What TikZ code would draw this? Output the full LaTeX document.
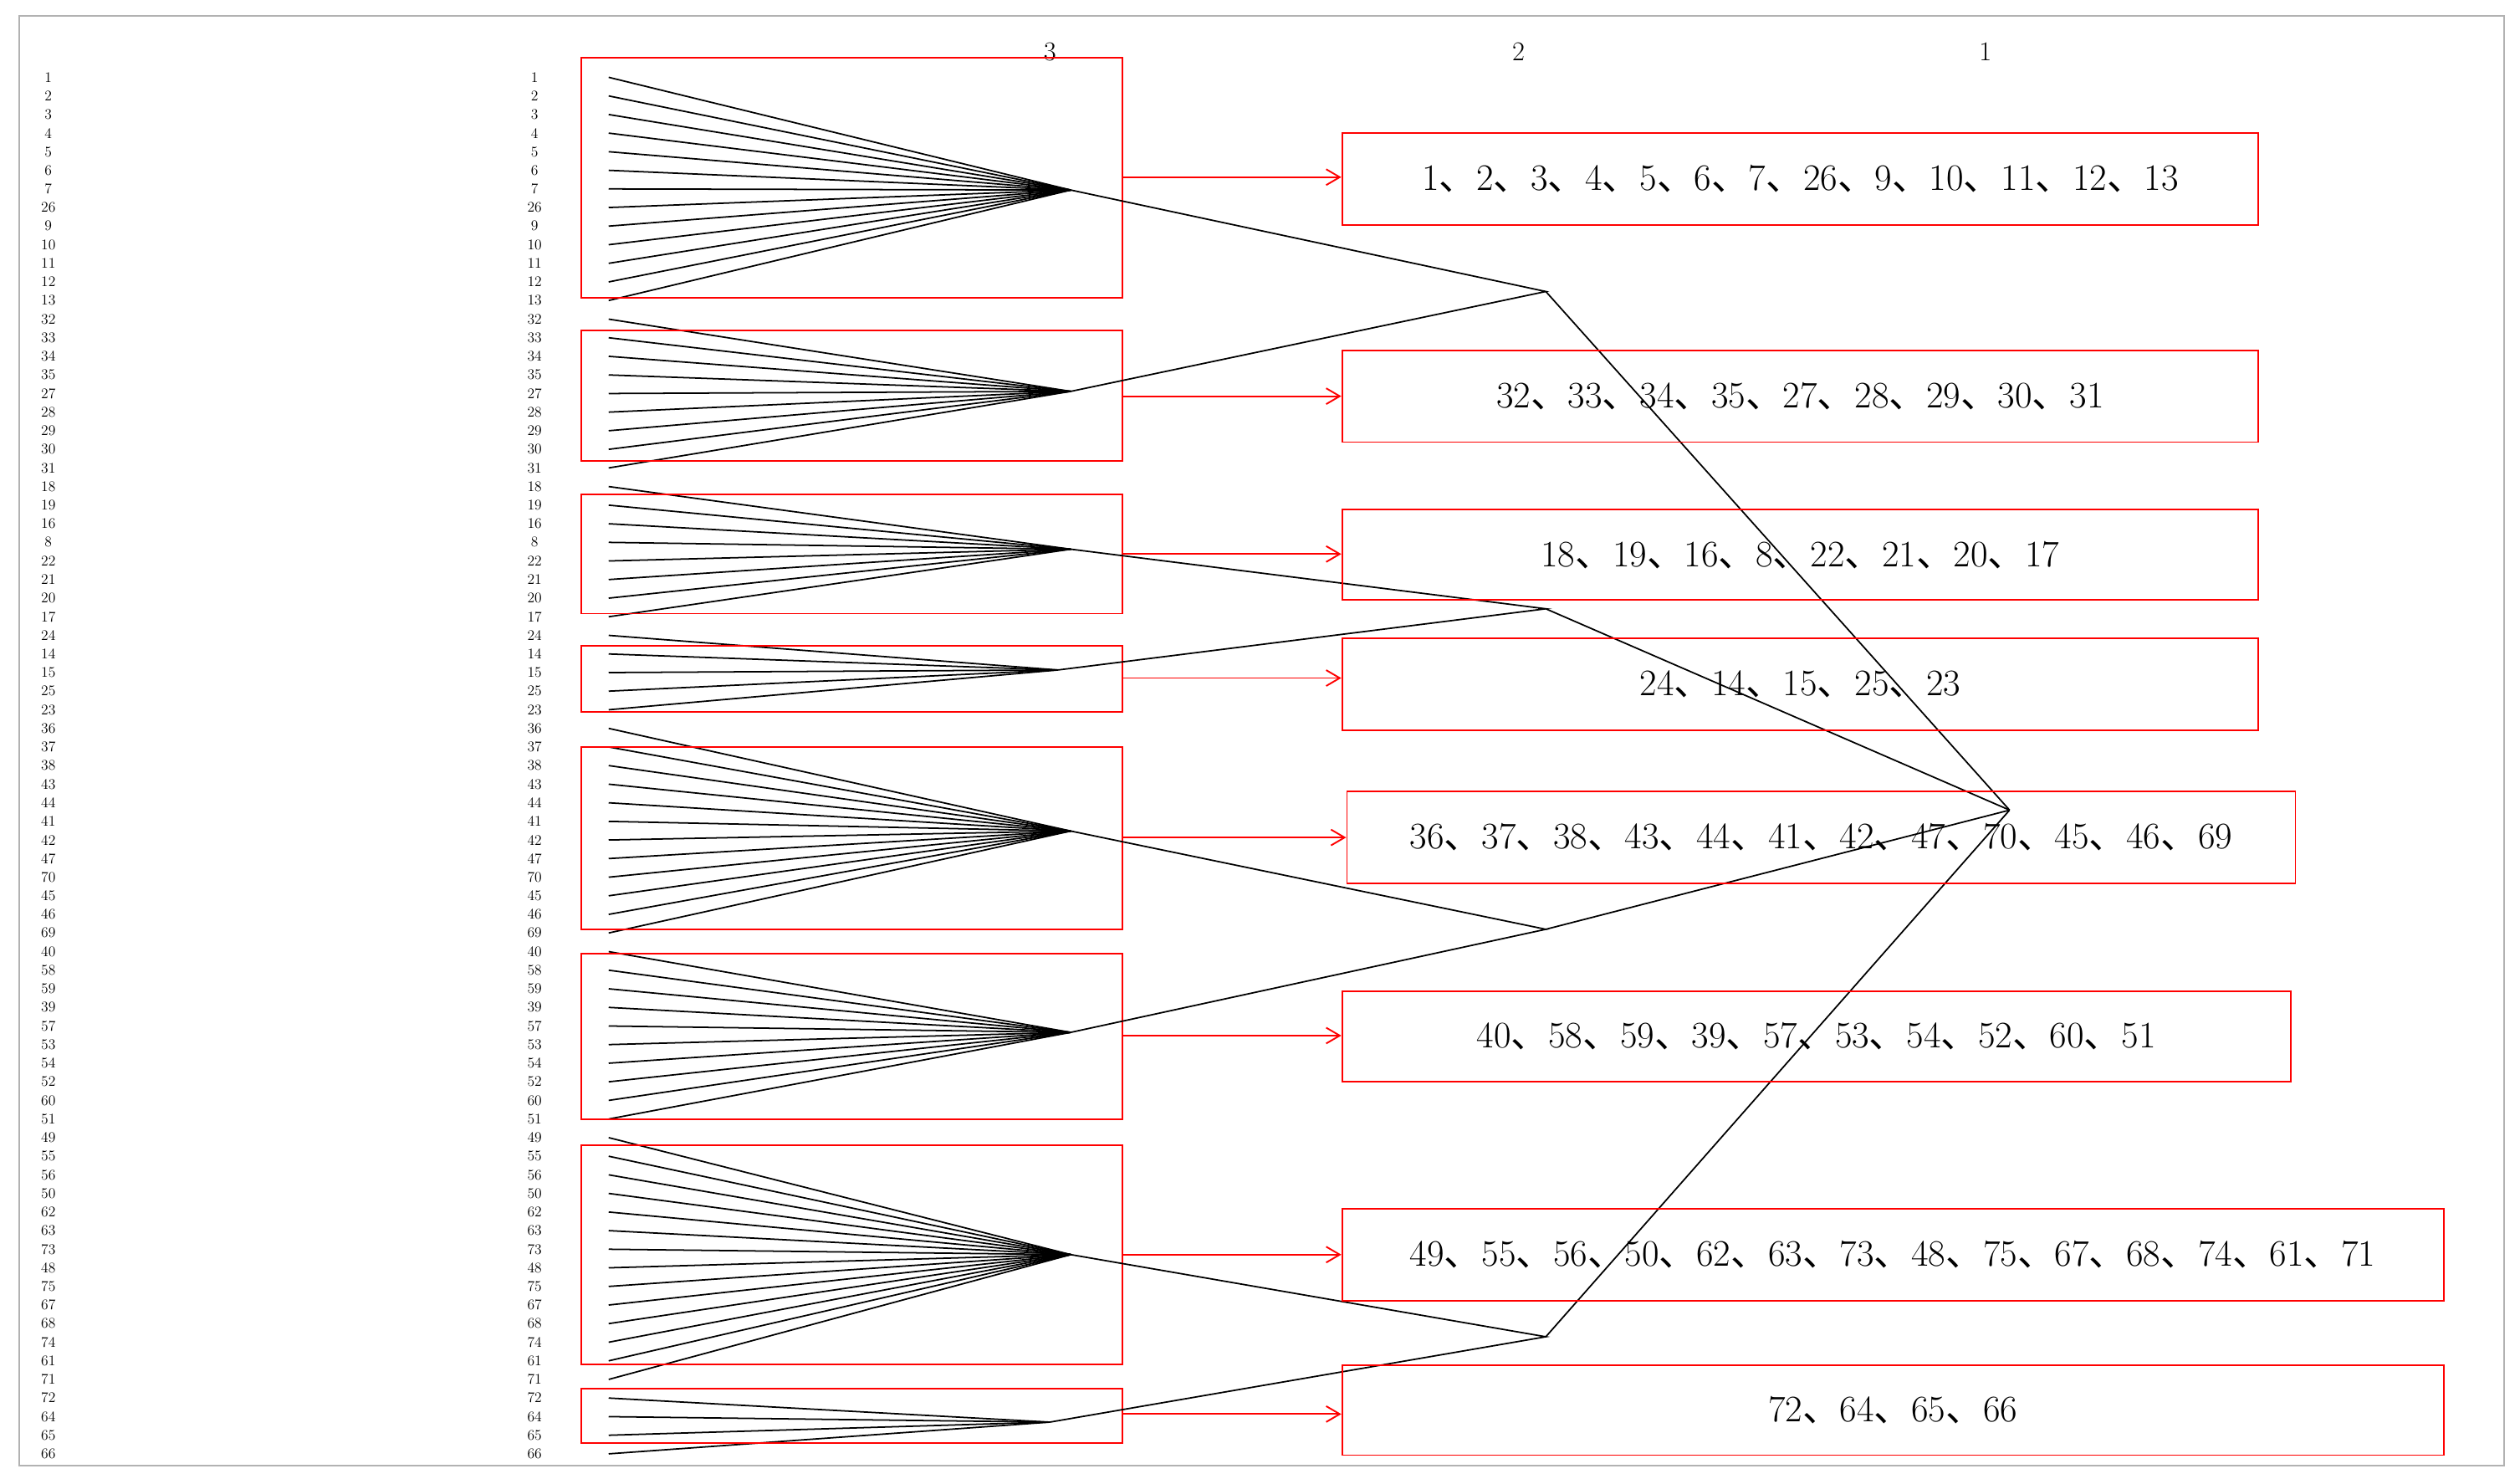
\documentclass[tikz,border=0pt]{standalone}
\usepackage{fontspec}
\newfontfamily\cjk{Noto Sans CJK SC}
\usetikzlibrary{arrows.meta}
\newcommand{\sep}{{\cjk 、}}
\begin{document}
\begin{tikzpicture}[x=0.05cm,y=-0.05cm,
  rb/.style={draw=red,line width=1.4pt},
  arr/.style={red,line width=1.4pt,-{Straight Barb[length=12pt,width=14pt]}},
  lk/.style={black,line width=1.3pt},
  leaf/.style={font=\fontsize{13}{13}\selectfont,inner sep=0pt},
  big/.style={font=\fontsize{33}{36}\selectfont},
  lvl/.style={font=\fontsize{24}{26}\selectfont}]
\useasboundingbox (0,0) rectangle (1565,918);
\draw[gray!60,line width=1.6pt] (12,10) rectangle (1555,910);
\node[lvl] (L3) at (652,32) {3};
\node[lvl] (L2) at (943,32) {2};
\node[lvl] (L1) at (1233,32) {1};
% leaf labels
\foreach \lab [count=\i from 0] in {1,2,3,4,5,6,7,26,9,10,11,12,13,32,33,34,35,27,28,29,30,31,18,19,16,8,22,21,20,17,24,14,15,25,23,36,37,38,43,44,41,42,47,70,45,46,69,40,58,59,39,57,53,54,52,60,51,49,55,56,50,62,63,73,48,75,67,68,74,61,71,72,64,65,66}{
  \node[leaf] (a\i) at (30,{48+\i*11.55}) {\lab};
  \node[leaf] (b\i) at (332,{48+\i*11.55}) {\lab};
  \coordinate (p\i) at (378,{48+\i*11.55});
}
% cluster apexes
\coordinate (c1) at (665,118);
\coordinate (c2) at (665,243);
\coordinate (c3) at (665,341);
\coordinate (c4) at (657,416);
\coordinate (c5) at (665,516);
\coordinate (c6) at (665,641);
\coordinate (c7) at (665,779);
\coordinate (c8) at (652,883);
\foreach \s/\e/\c in {0/12/c1,13/21/c2,22/29/c3,30/34/c4,35/46/c5,47/56/c6,57/70/c7,71/74/c8}{
  \foreach \i in {\s,...,\e}{\draw[lk] (p\i) -- (\c);}
}
% left red boxes
\draw[rb] (361,36) rectangle (697,185);
\draw[rb] (361,205) rectangle (697,286);
\draw[rb] (361,307) rectangle (697,381);
\draw[rb] (361,401) rectangle (697,442);
\draw[rb] (361,464) rectangle (697,577);
\draw[rb] (361,592) rectangle (697,695);
\draw[rb] (361,711) rectangle (697,847);
\draw[rb] (361,862) rectangle (697,896);
% higher levels
\coordinate (m1) at (960,181);
\coordinate (m2) at (960,378);
\coordinate (m3) at (960,577);
\coordinate (m4) at (960,830);
\coordinate (r) at (1248,503);
\draw[lk] (c1) -- (m1) -- (c2);
\draw[lk] (c3) -- (m2) -- (c4);
\draw[lk] (c5) -- (m3) -- (c6);
\draw[lk] (c7) -- (m4) -- (c8);
\foreach \m in {m1,m2,m3,m4}{\draw[lk] (\m) -- (r);}
% right boxes
\node[rb,big,anchor=north west,inner sep=0pt,minimum height=57*0.05cm,minimum width=569*0.05cm] (B1) at (833,82) {1\sep2\sep3\sep4\sep5\sep6\sep7\sep26\sep9\sep10\sep11\sep12\sep13};
\node[rb,big,anchor=north west,inner sep=0pt,minimum height=57*0.05cm,minimum width=569*0.05cm] (B2) at (833,217) {32\sep33\sep34\sep35\sep27\sep28\sep29\sep30\sep31};
\node[rb,big,anchor=north west,inner sep=0pt,minimum height=56*0.05cm,minimum width=569*0.05cm] (B3) at (833,316) {18\sep19\sep16\sep8\sep22\sep21\sep20\sep17};
\node[rb,big,anchor=north west,inner sep=0pt,minimum height=57*0.05cm,minimum width=569*0.05cm] (B4) at (833,396) {24\sep14\sep15\sep25\sep23};
\node[rb,big,anchor=north west,inner sep=0pt,minimum height=57*0.05cm,minimum width=589*0.05cm] (B5) at (836,491) {36\sep37\sep38\sep43\sep44\sep41\sep42\sep47\sep70\sep45\sep46\sep69};
\node[rb,big,anchor=north west,inner sep=0pt,minimum height=56*0.05cm,minimum width=589*0.05cm] (B6) at (833,615) {40\sep58\sep59\sep39\sep57\sep53\sep54\sep52\sep60\sep51};
\node[rb,big,anchor=north west,inner sep=0pt,minimum height=57*0.05cm,minimum width=684*0.05cm] (B7) at (833,750) {49\sep55\sep56\sep50\sep62\sep63\sep73\sep48\sep75\sep67\sep68\sep74\sep61\sep71};
\node[rb,big,anchor=north west,inner sep=0pt,minimum height=56*0.05cm,minimum width=684*0.05cm] (B8) at (833,847) {72\sep64\sep65\sep66};
% arrows
\foreach \y/\b in {110/B1,246/B2,344/B3,421/B4,520/B5,643/B6,779/B7,878/B8}{
  \draw[arr] (697,\y) -- (\b.west |- 0,\y);
}
\end{tikzpicture}
\end{document}
